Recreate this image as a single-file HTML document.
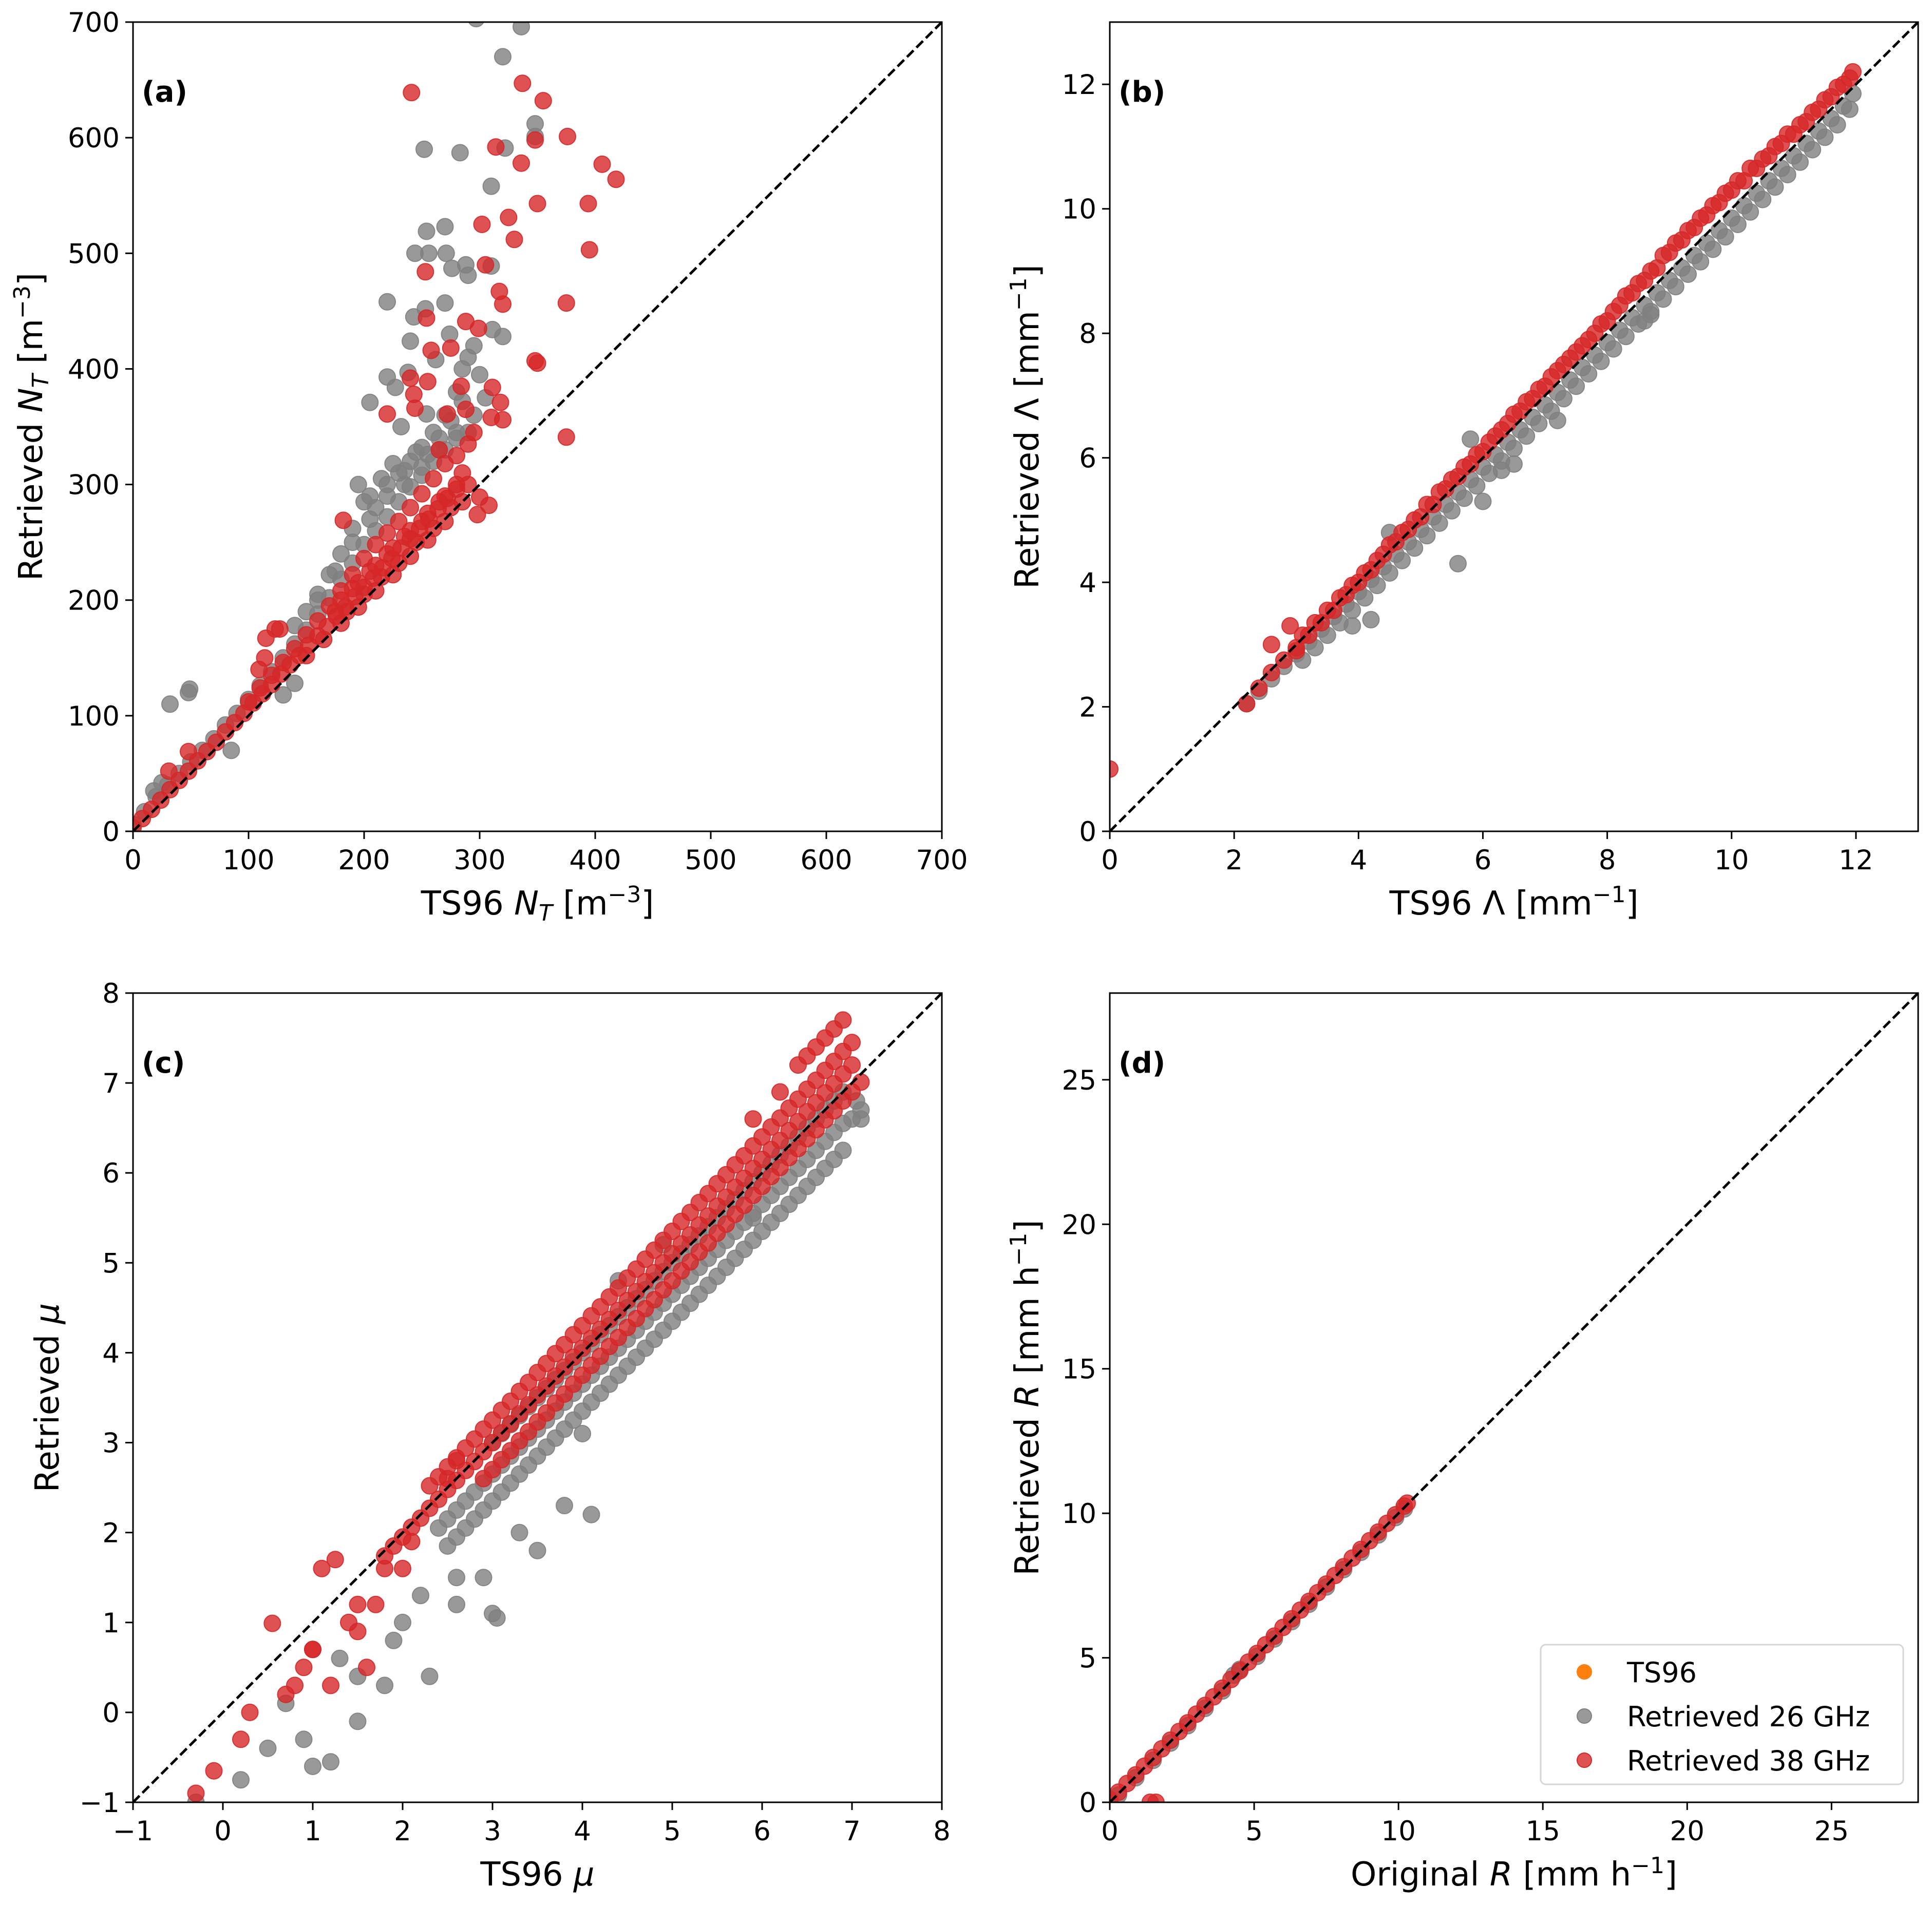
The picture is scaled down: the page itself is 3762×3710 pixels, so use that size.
<!DOCTYPE html>
<html><head><meta charset="utf-8"><title>Retrieval scatter</title>
<style>
html,body{margin:0;padding:0;background:#fff;}
svg{display:block;font-family:"DejaVu Sans","Liberation Sans",sans-serif;}
</style></head>
<body>
<svg id="fig" xmlns="http://www.w3.org/2000/svg" width="3762" height="3710" viewBox="0 0 3762 3710">
<rect width="3762" height="3710" fill="#fff"/>
</svg>
<script>
// ---------- Panel (a) data ----------
const aGrayX=[0,10,20,30,40,50,60,70,80,90,100,110,120,130,140,150,160,170,180,190,200,210,220,230,240,250,260,270,280,290,
140,150,160,170,180,190,200,210,220,230,240,250,260,270,280,
160,175,190,205,220,235,250,265,280,295,
85,130,140,195,205,215,225,235,245,255,265,275,285,
32,48,49,220,254,270,244,256,271,276,288,290,310,320,311,297,336,320,252,283,322,348,348,310,220,227,205,240,243,253,270,254,285,290,295,300,305,232,238,262,274,18,25];
const aGrayY=[6,17,30,40,50,60,70,80,92,102,114,126,138,150,162,174,188,202,218,232,248,260,272,285,298,308,320,330,340,345,
178,190,205,222,240,262,285,280,300,310,320,332,345,360,380,
200,225,250,270,290,300,315,330,345,360,
70,118,128,300,290,305,318,312,328,326,340,355,372,
110,120,123,458,519,523,500,500,500,487,490,481,489,428,434,703,696,670,590,587,591,612,601,558,393,384,371,424,445,452,457,361,400,410,420,395,375,350,397,408,430,35,42];
const aRedX=[0,8,16,24,32,40,48,56,64,72,80,88,96,104,112,120,128,136,144,152,160,168,176,184,192,200,208,216,224,232,240,248,256,264,272,280,
100,110,120,130,140,150,160,170,180,190,200,210,220,230,240,250,260,270,280,290,
150,165,180,195,210,225,240,255,270,285,
180,195,210,225,240,255,270,285,
175,190,205,220,235,250,265,280,
185,200,215,230,245,260,275,290,
241,337,355,314,348,336,376,406,418,394,350,325,330,302,305,395,253,317,320,375,254,288,299,275,258,240,255,348,350,375,311,318,320,310,308,300,298,182,220,243,244,272,295,114,109,123,127,31,48,115,284,288,265];
const aRedY=[3,11,19,27,36,44,52,61,69,77,86,94,102,111,119,127,136,144,152,161,169,177,186,194,203,211,219,228,236,245,253,262,270,279,288,296,
112,124,135,146,158,170,182,195,208,222,236,248,258,268,280,292,305,318,325,335,
152,166,180,194,208,222,238,252,268,285,
200,215,230,245,260,275,290,310,
190,210,225,240,255,268,285,300,
190,205,220,232,250,262,280,300,
639,647,632,592,598,578,601,577,564,543,543,531,512,525,490,503,484,467,456,457,444,441,435,418,416,392,389,407,405,341,384,371,356,358,282,289,274,269,361,378,366,361,345,150,140,175,175,52,69,167,385,365,330];

// ---------- Panel (b) data ----------
const bGrayX=[2.2,2.4,2.6,2.8,3.0,3.2,3.4,3.6,3.8,4.0,4.2,4.4,4.6,4.8,5.0,5.2,5.4,5.6,5.8,6.0,6.2,6.4,6.6,6.8,7.0,7.2,7.4,7.6,7.8,8.0,8.2,8.4,8.6,8.8,9.0,9.2,9.4,9.6,9.8,10.0,10.2,10.4,10.6,10.8,11.0,11.2,11.4,11.6,11.8,
3.1,3.3,3.5,3.7,3.9,4.1,4.3,4.5,4.7,4.9,5.1,5.3,5.5,5.7,5.9,6.1,6.3,6.5,6.7,6.9,7.1,7.3,7.5,7.7,7.9,8.1,8.3,8.5,8.7,8.9,9.1,9.3,9.5,9.7,9.9,10.1,10.3,10.5,10.7,10.9,11.1,11.3,11.5,11.7,
5.6,6.0,6.3,5.8,8.6,8.7,3.9,4.2,4.5,6.5,7.2,11.95,11.9];
const bGrayY=[2.05,2.25,2.45,2.65,2.85,3.05,3.25,3.45,3.65,3.85,4.05,4.25,4.45,4.65,4.85,5.05,5.25,5.45,5.65,5.85,6.05,6.25,6.45,6.65,6.85,7.05,7.25,7.45,7.65,7.85,8.05,8.25,8.45,8.65,8.85,9.05,9.25,9.45,9.65,9.85,10.05,10.25,10.45,10.65,10.85,11.05,11.25,11.45,11.65,
2.75,2.95,3.15,3.35,3.55,3.75,3.95,4.15,4.35,4.55,4.75,4.95,5.15,5.35,5.55,5.75,5.95,6.15,6.35,6.55,6.75,6.95,7.15,7.35,7.55,7.75,7.95,8.15,8.35,8.55,8.75,8.95,9.15,9.35,9.55,9.75,9.95,10.15,10.35,10.55,10.75,10.95,11.15,11.35,
4.3,5.3,5.8,6.3,8.2,8.3,3.3,3.4,4.8,5.9,6.6,11.85,11.6];
const bRedX=[2.2,2.4,2.6,2.8,3.0,3.2,3.4,3.6,3.8,4.0,4.2,4.4,4.6,4.8,5.0,5.2,5.4,5.6,5.8,6.0,6.2,6.4,6.6,6.8,7.0,7.2,7.4,7.6,7.8,8.0,8.2,8.4,8.6,8.8,9.0,9.2,9.4,9.6,9.8,10.0,10.2,10.4,10.6,10.8,11.0,11.2,11.4,11.6,11.8,11.95,
3.1,3.3,3.5,3.7,3.9,4.1,4.3,4.5,4.7,4.9,5.1,5.3,5.5,5.7,5.9,6.1,6.3,6.5,6.7,6.9,7.1,7.3,7.5,7.7,7.9,8.1,8.3,8.5,8.7,8.9,9.1,9.3,9.5,9.7,9.9,10.1,10.3,10.5,10.7,10.9,11.1,11.3,11.5,11.7,11.9,
0,2.9,2.6,3.0];
const bRedY=[2.05,2.3,2.55,2.75,2.95,3.15,3.35,3.55,3.8,4.0,4.2,4.45,4.65,4.85,5.05,5.25,5.5,5.7,5.9,6.1,6.35,6.55,6.75,6.95,7.15,7.4,7.6,7.8,8.0,8.2,8.45,8.65,8.85,9.05,9.3,9.5,9.7,9.9,10.1,10.3,10.45,10.65,10.85,11.05,11.2,11.4,11.6,11.8,12.0,12.2,
3.15,3.35,3.55,3.75,3.95,4.15,4.35,4.6,4.8,5.0,5.25,5.45,5.65,5.85,6.05,6.25,6.45,6.7,6.9,7.1,7.3,7.5,7.7,7.9,8.15,8.35,8.6,8.8,9.0,9.25,9.45,9.65,9.85,10.05,10.25,10.45,10.65,10.8,11.0,11.2,11.35,11.55,11.75,11.95,12.1,
1.0,3.3,3.0,2.9];

// ---------- Panel (c) data ----------
const cGrayX=[2.4,2.6,2.8,3.0,3.2,3.4,3.6,3.8,4.0,4.2,4.4,4.6,4.8,5.0,5.2,5.4,5.6,5.8,6.0,6.2,6.4,6.6,6.8,7.0,
2.5,2.7,2.9,3.1,3.3,3.5,3.7,3.9,4.1,4.3,4.5,4.7,4.9,5.1,5.3,5.5,5.7,5.9,6.1,6.3,6.5,6.7,6.9,
3.0,3.2,3.4,3.6,3.8,4.0,4.2,4.4,4.6,4.8,5.0,5.2,5.4,5.6,5.8,6.0,6.2,6.4,6.6,6.8,
2.5,2.7,2.9,3.1,3.3,3.5,3.7,3.9,4.1,4.3,4.5,4.7,4.9,5.1,5.3,5.5,5.7,5.9,6.1,6.3,6.5,6.7,6.9,
2.6,2.8,3.0,3.2,3.4,3.6,3.8,4.0,4.2,4.4,4.6,4.8,5.0,5.2,5.4,5.6,5.8,6.0,6.2,6.4,6.6,6.8,
3.1,3.3,3.5,3.7,3.9,4.1,4.3,4.5,4.7,4.9,5.1,5.3,5.5,5.7,5.9,6.1,6.3,6.5,6.7,
7.1,7.05,6.9,7.1,
3.0,2.3,2.6,2.9,3.8,4.1,4.0,3.3,4.4,5.9,4.9,1.2,0.9,1.0,0.2,-0.3,1.5,1.5,1.8,0.5,2.0,2.2,1.9,1.3,0.7,3.05,3.5,2.6];
const cGrayY=[2.05,2.25,2.45,2.65,2.85,3.05,3.25,3.45,3.65,3.85,4.05,4.25,4.45,4.65,4.85,5.05,5.25,5.45,5.65,5.85,6.05,6.25,6.45,6.6,
1.85,2.05,2.25,2.45,2.65,2.85,3.05,3.25,3.45,3.65,3.85,4.05,4.25,4.45,4.65,4.85,5.05,5.25,5.45,5.65,5.85,6.05,6.25,
3.0,3.2,3.4,3.6,3.8,4.0,4.2,4.4,4.6,4.8,5.0,5.2,5.4,5.6,5.8,6.0,6.2,6.4,6.6,6.8,
2.15,2.35,2.55,2.75,2.95,3.15,3.35,3.55,3.75,3.95,4.15,4.35,4.55,4.75,4.95,5.15,5.35,5.55,5.75,5.95,6.15,6.35,6.55,
1.95,2.15,2.35,2.55,2.75,2.95,3.15,3.35,3.55,3.75,3.95,4.15,4.35,4.55,4.75,4.95,5.15,5.35,5.55,5.75,5.95,6.15,
3.1,3.3,3.5,3.7,3.9,4.1,4.3,4.5,4.7,4.9,5.1,5.3,5.5,5.7,5.9,6.1,6.3,6.5,6.7,
6.6,6.8,6.9,6.7,
1.1,0.4,1.2,1.5,2.3,2.2,3.1,2.0,4.8,5.5,5.2,-0.55,-0.3,-0.6,-0.75,-1.0,0.4,-0.1,0.3,-0.4,1.0,1.3,0.8,0.6,0.1,1.05,1.8,1.5];
const cRedX=[1.8,2.0,2.2,2.4,2.6,2.8,3.0,3.2,3.4,3.6,3.8,4.0,4.2,4.4,4.6,4.8,5.0,5.2,5.4,5.6,5.8,6.0,6.2,6.4,6.6,6.8,7.0,
2.3,2.5,2.7,2.9,3.1,3.3,3.5,3.7,3.9,4.1,4.3,4.5,4.7,4.9,5.1,5.3,5.5,5.7,5.9,6.1,6.3,6.5,6.7,6.9,
2.9,3.1,3.3,3.5,3.7,3.9,4.1,4.3,4.5,4.7,4.9,5.1,5.3,5.5,5.7,5.9,6.1,6.3,6.5,6.7,6.9,7.1,
1.9,2.1,2.3,2.5,2.7,2.9,3.1,3.3,3.5,3.7,3.9,4.1,4.3,4.5,4.7,4.9,5.1,5.3,5.5,5.7,5.9,6.1,6.3,6.5,6.7,6.9,
2.4,2.6,2.8,3.0,3.2,3.4,3.6,3.8,4.0,4.2,4.4,4.6,4.8,5.0,5.2,5.4,5.6,5.8,6.0,6.2,6.4,6.6,6.8,
3.0,3.2,3.4,3.6,3.8,4.0,4.2,4.4,4.6,4.8,5.0,5.2,5.4,5.6,5.8,6.0,6.2,6.4,6.6,6.8,7.0,
6.4,6.6,6.8,6.9,7.0,6.2,5.9,6.5,6.7,
1.0,1.5,1.1,1.25,0.55,0.9,0.2,-0.3,-0.1,0.3,0.7,1.2,1.5,1.6,1.8,2.0,2.1,2.5,2.6,1.0,0.8,1.4,1.7];
const cRedY=[1.74,1.95,2.16,2.37,2.58,2.79,3.0,3.21,3.42,3.63,3.84,4.05,4.26,4.47,4.68,4.89,5.1,5.31,5.52,5.73,5.94,6.15,6.36,6.57,6.78,6.99,7.2,
2.52,2.73,2.94,3.15,3.36,3.57,3.78,3.99,4.2,4.41,4.62,4.83,5.04,5.25,5.46,5.67,5.88,6.09,6.3,6.51,6.72,6.93,7.14,7.35,
2.6,2.81,3.02,3.23,3.44,3.65,3.86,4.07,4.28,4.49,4.7,4.91,5.12,5.33,5.54,5.75,5.96,6.17,6.38,6.59,6.8,7.01,
1.85,2.06,2.27,2.48,2.69,2.9,3.11,3.32,3.53,3.74,3.95,4.16,4.37,4.58,4.79,5.0,5.21,5.42,5.63,5.84,6.05,6.26,6.47,6.68,6.89,7.1,
2.62,2.83,3.04,3.25,3.46,3.67,3.88,4.09,4.3,4.51,4.72,4.93,5.14,5.35,5.56,5.77,5.98,6.19,6.4,6.61,6.82,7.03,7.24,
2.7,2.91,3.12,3.33,3.54,3.75,3.96,4.17,4.38,4.59,4.8,5.01,5.22,5.43,5.64,5.85,6.06,6.27,6.48,6.69,6.9,
7.2,7.4,7.6,7.7,7.45,6.9,6.6,7.3,7.5,
0.7,1.2,1.6,1.7,0.99,0.5,-0.3,-0.9,-0.65,0.0,0.2,0.3,0.9,0.5,1.6,1.6,1.9,2.6,2.8,0.7,0.3,1.0,1.2];

// ---------- Panel (d) data ----------
const dGrayX=[0.3,0.9,1.5,2.1,2.7,3.3,3.9,4.3,4.5,5.1,5.7,6.3,6.9,7.5,8.1,8.7,9.3,9.9,10.2];
const dGrayY=[0.25,0.85,1.45,2.05,2.65,3.25,3.85,4.4,4.6,5.05,5.65,6.25,6.85,7.45,8.05,8.65,9.25,9.85,10.15];
const dRedX=[0,0.3,0.6,0.9,1.2,1.5,1.8,2.1,2.4,2.7,3.0,3.3,3.6,3.9,4.2,4.5,4.8,5.1,5.4,5.7,6.0,6.3,6.6,6.9,7.2,7.5,7.8,8.1,8.4,8.7,9.0,9.3,9.6,9.9,10.2,10.3,1.4,1.6];
const dRedY=[0.1,0.35,0.65,0.95,1.25,1.55,1.85,2.15,2.45,2.75,3.05,3.35,3.65,3.95,4.25,4.55,4.85,5.15,5.45,5.75,6.05,6.35,6.65,6.95,7.25,7.55,7.85,8.15,8.45,8.75,9.05,9.35,9.65,9.95,10.25,10.35,0,0];

// ---------- tick labels ----------
const aTicks=[0,100,200,300,400,500,600,700];
const bTicks=[0,2,4,6,8,10,12];
const cTicks=[-1,0,1,2,3,4,5,6,7,8];
const dTicks=[0,5,10,15,20,25];

const NS="http://www.w3.org/2000/svg";
const svg=document.getElementById('fig');
function mk(tag,attrs,parent){const e=document.createElementNS(NS,tag);for(const k in attrs)e.setAttribute(k,attrs[k]);(parent||svg).appendChild(e);return e;}

const GRAY="#7f7f7f", RED="#d62728";
const panels=[
 {id:'a',x0:259,y0:43,w:1575,h:1576,min:0,max:700,ticks:aTicks,gx:aGrayX,gy:aGrayY,rx:aRedX,ry:aRedY,
  xlab:'TS96 <tspan font-style="italic">N</tspan><tspan font-style="italic" font-size="44" dy="12">T</tspan><tspan dy="-12"> [m</tspan><tspan font-size="44" dy="-24">−3</tspan><tspan dy="24">]</tspan>',
  ylab:'Retrieved <tspan font-style="italic">N</tspan><tspan font-style="italic" font-size="44" dy="12">T</tspan><tspan dy="-12"> [m</tspan><tspan font-size="44" dy="-24">−3</tspan><tspan dy="24">]</tspan>',ylx:60},
 {id:'b',x0:2161,y0:43,w:1574,h:1576,min:0,max:13,ticks:bTicks,gx:bGrayX,gy:bGrayY,rx:bRedX,ry:bRedY,
  xlab:'TS96 Λ [mm<tspan font-size="44" dy="-24">−1</tspan><tspan dy="24">]</tspan>',
  ylab:'Retrieved Λ [mm<tspan font-size="44" dy="-24">−1</tspan><tspan dy="24">]</tspan>',ylx:2000},
 {id:'c',x0:259,y0:1934,w:1575,h:1576,min:-1,max:8,ticks:cTicks,gx:cGrayX,gy:cGrayY,rx:cRedX,ry:cRedY,
  xlab:'TS96 <tspan font-style="italic">μ</tspan>',ylab:'Retrieved <tspan font-style="italic">μ</tspan>',ylx:92},
 {id:'d',x0:2161,y0:1934,w:1574,h:1576,min:0,max:28,ticks:dTicks,gx:dGrayX,gy:dGrayY,rx:dRedX,ry:dRedY,
  xlab:'Original <tspan font-style="italic">R</tspan> [mm h<tspan font-size="44" dy="-24">−1</tspan><tspan dy="24">]</tspan>',
  ylab:'Retrieved <tspan font-style="italic">R</tspan> [mm h<tspan font-size="44" dy="-24">−1</tspan><tspan dy="24">]</tspan>',ylx:2000}
];

panels.forEach(p=>{
  const g=mk('g',{});
  
  
  const sx=v=>p.x0+(v-p.min)/(p.max-p.min)*p.w;
  const sy=v=>p.y0+p.h-(v-p.min)/(p.max-p.min)*p.h;
  const cid='clip'+p.id;
  const cp=mk('clipPath',{id:cid},g);
  mk('rect',{x:p.x0,y:p.y0,width:p.w,height:p.h},cp);
  const pg=mk('g',{'clip-path':'url(#'+cid+')'},g);
  function series(xs,ys,col,name){
    const sg=mk('g',{},pg);
    
    
    const n=Math.min(xs.length,ys.length);
    for(let i=0;i<n;i++){
      const c=mk('circle',{cx:sx(xs[i]).toFixed(1),cy:sy(ys[i]).toFixed(1),r:16,fill:col,'fill-opacity':0.8,stroke:col,'stroke-opacity':0.9,'stroke-width':2},sg);
      
      
    }
  }
  series(p.gx,p.gy,GRAY,'series-retrieved-26ghz');
  series(p.rx,p.ry,RED,'series-retrieved-38ghz');
  const ln=mk('line',{x1:sx(p.min),y1:sy(p.min),x2:sx(p.max),y2:sy(p.max),stroke:'#000','stroke-width':5,'stroke-dasharray':'18,8'},pg);
  
  
  const fr=mk('rect',{x:p.x0,y:p.y0,width:p.w,height:p.h,fill:'none',stroke:'#000','stroke-width':3},g);
  
  
  p.ticks.forEach(t=>{
    const X=sx(t),Y=sy(t);
    mk('line',{x1:X,y1:p.y0+p.h,x2:X,y2:p.y0+p.h+15,stroke:'#000','stroke-width':3},g);
    mk('line',{x1:p.x0-15,y1:Y,x2:p.x0,y2:Y,stroke:'#000','stroke-width':3},g);
    const lbl=String(t).replace('-','−');
    const xt=mk('text',{x:X,y:p.y0+p.h+74,'font-size':53,'text-anchor':'middle'},g);
    xt.textContent=lbl;
    
    
    const yt=mk('text',{x:p.x0-26,y:Y+19,'font-size':53,'text-anchor':'end'},g);
    yt.textContent=lbl;
    
    
  });
  const xl=mk('text',{x:p.x0+p.w/2,y:p.y0+p.h+162,'font-size':64,'text-anchor':'middle'},g);
  xl.innerHTML=p.xlab;
  
  
  const cy=p.y0+p.h/2;
  const yl=mk('text',{x:p.ylx+22,y:cy,'font-size':64,'text-anchor':'middle',transform:'rotate(-90 '+(p.ylx+22)+' '+cy+')'},g);
  yl.innerHTML=p.ylab;
  
  
  const pl=mk('text',{x:p.x0+17,y:p.y0+155,'font-size':56,'font-weight':'bold'},g);
  pl.textContent='('+p.id+')';
  
  
});

// legend in panel (d)
const lg=mk('g',{});


mk('rect',{x:3000,y:3203,width:706,height:272,rx:10,fill:'#fff','fill-opacity':0.8,stroke:'#d6d6d6','stroke-width':3},lg);
const legNames=['TS96','Retrieved 26 GHz','Retrieved 38 GHz'];
const legCols=['#ff7f0e',GRAY,RED];
legNames.forEach((n,i)=>{
  const y=3256+i*86;
  const e=mk('g',{},lg);
  
  
  mk('circle',{cx:3085,cy:y,r:14,fill:legCols[i],'fill-opacity':i?0.8:1,stroke:legCols[i],'stroke-width':2},e);
  const t=mk('text',{x:3168,y:y+20,'font-size':54},e);
  t.textContent=n;
});
</script>
</body></html>
